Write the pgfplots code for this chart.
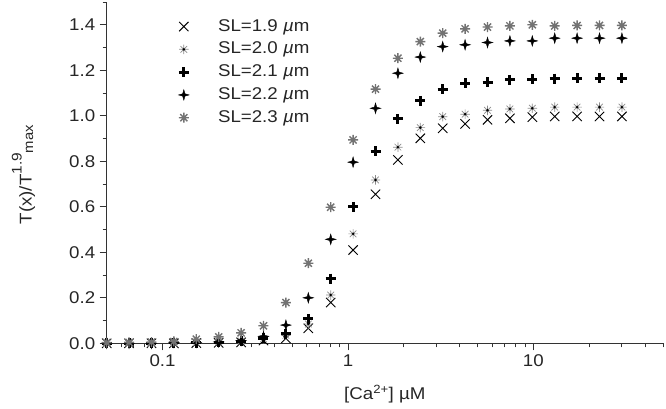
\documentclass[border=0pt]{standalone}
\usepackage{fontspec}
\setmainfont{Liberation Sans}[FakeStretch=1.1]
\usepackage{pgfplots}
\pgfplotsset{compat=1.18}
\usepackage{pgfplotstable}

% 8-ray asterisk
\pgfdeclareplotmark{star8}{%
  \pgfpathmoveto{\pgfpoint{-\pgfplotmarksize}{0pt}}\pgfpathlineto{\pgfpoint{\pgfplotmarksize}{0pt}}%
  \pgfpathmoveto{\pgfpoint{0pt}{-\pgfplotmarksize}}\pgfpathlineto{\pgfpoint{0pt}{\pgfplotmarksize}}%
  \pgfpathmoveto{\pgfpoint{-0.707\pgfplotmarksize}{-0.707\pgfplotmarksize}}\pgfpathlineto{\pgfpoint{0.707\pgfplotmarksize}{0.707\pgfplotmarksize}}%
  \pgfpathmoveto{\pgfpoint{-0.707\pgfplotmarksize}{0.707\pgfplotmarksize}}\pgfpathlineto{\pgfpoint{0.707\pgfplotmarksize}{-0.707\pgfplotmarksize}}%
  \pgfusepathqstroke
}
% thin grey asterisk with black centre
\pgfdeclareplotmark{star8dot}{%
  \pgfsetstrokecolor{black!45}%
  \pgfpathmoveto{\pgfpoint{-\pgfplotmarksize}{0pt}}\pgfpathlineto{\pgfpoint{\pgfplotmarksize}{0pt}}%
  \pgfpathmoveto{\pgfpoint{0pt}{-\pgfplotmarksize}}\pgfpathlineto{\pgfpoint{0pt}{\pgfplotmarksize}}%
  \pgfpathmoveto{\pgfpoint{-0.707\pgfplotmarksize}{-0.707\pgfplotmarksize}}\pgfpathlineto{\pgfpoint{0.707\pgfplotmarksize}{0.707\pgfplotmarksize}}%
  \pgfpathmoveto{\pgfpoint{-0.707\pgfplotmarksize}{0.707\pgfplotmarksize}}\pgfpathlineto{\pgfpoint{0.707\pgfplotmarksize}{-0.707\pgfplotmarksize}}%
  \pgfusepathqstroke
  \pgfsetfillcolor{black}%
  \pgfpathcircle{\pgfpointorigin}{1.4pt}%
  \pgfusepathqfill
}
% four-pointed star
\pgfdeclareplotmark{star4}{%
  \pgfpathmoveto{\pgfpoint{0pt}{\pgfplotmarksize}}%
  \pgfpathlineto{\pgfpoint{0.22\pgfplotmarksize}{0.22\pgfplotmarksize}}%
  \pgfpathlineto{\pgfpoint{\pgfplotmarksize}{0pt}}%
  \pgfpathlineto{\pgfpoint{0.22\pgfplotmarksize}{-0.22\pgfplotmarksize}}%
  \pgfpathlineto{\pgfpoint{0pt}{-\pgfplotmarksize}}%
  \pgfpathlineto{\pgfpoint{-0.22\pgfplotmarksize}{-0.22\pgfplotmarksize}}%
  \pgfpathlineto{\pgfpoint{-\pgfplotmarksize}{0pt}}%
  \pgfpathlineto{\pgfpoint{-0.22\pgfplotmarksize}{0.22\pgfplotmarksize}}%
  \pgfpathclose
  \pgfusepathqfillstroke
}

% legend image: one mark, with extra room before the text
\pgfplotsset{lgimg/.style={legend image code/.code={%
  \draw[##1] plot coordinates {(0.3cm,0cm)};
  \path (0cm,0cm) (1.45cm,0cm);}}}

% columns: Ca (uM), SL 1.9, 2.0, 2.1, 2.2, 2.3
\pgfplotstableread{
ca      a      b      c      d      e
0.05    0.000  0.000  0.000  0.000  0.003
0.066   0.000  0.000  0.000  0.000  0.004
0.0872  0.000  0.000  0.000  0.000  0.005
0.1152  0.000  0.001  0.002  0.003  0.008
0.1521  0.001  0.003  0.003  0.004  0.018
0.2009  0.002  0.006  0.005  0.006  0.028
0.2653  0.004  0.010  0.008  0.012  0.046
0.3504  0.012  0.020  0.022  0.030  0.077
0.4628  0.022  0.035  0.042  0.080  0.179
0.6113  0.066  0.085  0.107  0.200  0.352
0.8074  0.179  0.212  0.284  0.457  0.598
1.066   0.410  0.481  0.600  0.796  0.894
1.408   0.655  0.718  0.843  1.033  1.117
1.860   0.806  0.862  0.986  1.187  1.253
2.456   0.901  0.948  1.066  1.258  1.326
3.243   0.945  0.996  1.117  1.304  1.363
4.283   0.964  1.007  1.143  1.312  1.382
5.657   0.982  1.024  1.148  1.322  1.390
7.471   0.989  1.030  1.158  1.329  1.395
9.867   0.994  1.033  1.161  1.329  1.400
13.03   0.997  1.038  1.163  1.341  1.395
17.21   0.997  1.038  1.165  1.341  1.397
22.73   0.997  1.038  1.165  1.341  1.397
30.02   0.997  1.038  1.165  1.341  1.397
}\sltab

\begin{document}
\begin{tikzpicture}
\begin{axis}[
    scale only axis,
    width=556.3pt, height=341.3pt,
    xmode=log,
    xmin=0.05, xmax=50,
    ymin=0, ymax=1.5,
    axis x line*=bottom,
    axis y line*=left,
    axis line style={black!80, line width=0.8pt},
    tick style={black!80, line width=0.8pt},
    tick align=outside,
    major tick length=7pt,
    minor tick length=4pt,
    xtick={0.1,1,10},
    xticklabels={0.1,1,10},
    minor xtick={0.05,0.06,0.07,0.08,0.09,0.2,0.3,0.4,0.5,0.6,0.7,0.8,0.9,2,3,4,5,6,7,8,9,20,30,40,50},
    ytick={0,0.2,0.4,0.6,0.8,1.0,1.2,1.4},
    yticklabels={0.0,0.2,0.4,0.6,0.8,1.0,1.2,1.4},
    minor ytick={0.1,0.3,0.5,0.7,0.9,1.1,1.3,1.5},
    tick label style={font=\fontsize{17}{19}\selectfont, black!85},
    xticklabel style={yshift=-1pt},
    yticklabel style={xshift=-1pt},
    xlabel={[Ca\textsuperscript{2+}] µM},
    ylabel={T(x)/T\raisebox{10pt}{\fontsize{14}{14}\selectfont 1.9}\raisebox{-1.5pt}{\fontsize{13.5}{14}\selectfont max}},
    every axis x label/.style={at={(rel axis cs:0.5,0)}, yshift=-56.5pt, anchor=base,
        font=\fontsize{17}{19}\selectfont, text=black!85},
    every axis y label/.style={at={(rel axis cs:0,0.5)}, xshift=-75pt, yshift=-2pt, rotate=90, anchor=base,
        font=\fontsize{17}{19}\selectfont, text=black!85},
    clip=false,
    legend cell align=left,
    legend style={
        draw=none, fill=none,
        at={(rel axis cs:0.1206,0.953)}, anchor=north west,
        inner sep=0pt, outer sep=0pt,
        row sep=5.8pt,
        font=\fontsize{17}{19}\selectfont,
        nodes={inner sep=0pt, text height=13pt, text depth=4pt, text=black!85},
    },
]
\addplot[only marks, mark=x, mark size=6.6pt, line width=0.9pt, black, lgimg] table[x=ca, y=a] {\sltab};
\addlegendentry{SL=1.9 \textit{µ}m}
\addplot[only marks, mark=star8dot, mark size=4.7pt, line width=0.7pt, black, lgimg] table[x=ca, y=b] {\sltab};
\addlegendentry{SL=2.0 \textit{µ}m}
\addplot[only marks, mark=+, mark size=5pt, line width=3pt, black, lgimg] table[x=ca, y=c] {\sltab};
\addlegendentry{SL=2.1 \textit{µ}m}
\addplot[only marks, mark=star4, mark size=5.3pt, line width=0.4pt, black, lgimg] table[x=ca, y=d] {\sltab};
\addlegendentry{SL=2.2 \textit{µ}m}
\addplot[only marks, mark=star8, mark size=5pt, line width=1.4pt, black!55, lgimg] table[x=ca, y=e] {\sltab};
\addlegendentry{SL=2.3 \textit{µ}m}
\coordinate (sw) at (rel axis cs:0,0);
\coordinate (ne) at (rel axis cs:1,1);
\end{axis}
\pgfresetboundingbox
\path[use as bounding box] ([shift={(-106.7pt,-64.7pt)}]sw) rectangle ([shift={(3pt,2pt)}]ne);
\end{tikzpicture}
\end{document}
